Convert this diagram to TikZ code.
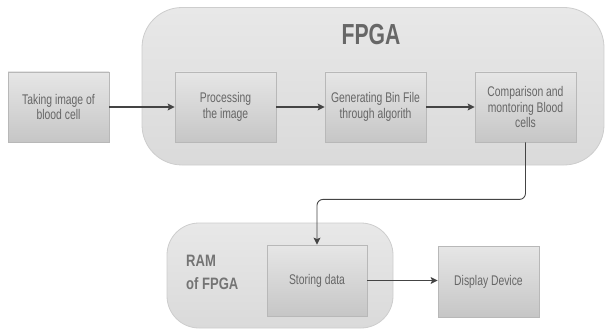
\documentclass[tikz,border=0pt]{standalone}
\usepackage{fontspec}
\setmainfont{Liberation Sans}
\newfontfamily\boxfont[FakeStretch=0.74]{Liberation Sans}
\newfontfamily\titlefont[FakeStretch=0.73]{Liberation Sans}
\newfontfamily\ramfont[FakeStretch=0.79]{Liberation Sans}
\usetikzlibrary{arrows.meta}
\definecolor{txt}{HTML}{666666}
\definecolor{titletxt}{HTML}{676767}
\definecolor{ramtxt}{HTML}{747474}
\definecolor{boxline}{HTML}{B8B8B8}
\definecolor{boxtop}{HTML}{E6E6E6}
\definecolor{boxbot}{HTML}{C6C6C6}
\definecolor{contline}{HTML}{CDCDCD}
\definecolor{conttop}{HTML}{E8E8E8}
\definecolor{contbot}{HTML}{DADADA}
\definecolor{arrcol}{HTML}{444444}
\begin{document}
\begin{tikzpicture}[x=1pt,y=-1pt,
  stepbox/.style={draw=boxline, line width=0.8pt, top color=boxtop, bottom color=boxbot,
    minimum width=101pt, minimum height=70pt, inner sep=0pt, align=center, text=txt,
    font=\boxfont\fontsize{14}{15.5}\selectfont},
  cont/.style={draw=contline, line width=0.8pt, top color=conttop, bottom color=contbot, inner sep=0pt},
  arr/.style={-{Stealth[length=7pt,width=7pt,inset=1.5pt]}, draw=arrcol, line width=1.1pt},
  conn/.style={-{Stealth[length=7pt,width=7pt,inset=1.5pt]}, draw=arrcol, line width=0.9pt, rounded corners=6pt}]
\useasboundingbox (0,0) rectangle (605,329);
% containers
\node[cont, rounded corners=40pt, minimum width=462pt, minimum height=157.5pt] (fpga) at (373,86.25) {};
\node[cont, rounded corners=32pt, minimum width=226pt, minimum height=105pt] (ram) at (280,275.5) {};
% titles
\node[text=titletxt, font=\titlefont\bfseries\fontsize{29}{32}\selectfont, inner sep=0pt] (fpgatitle) at (371,34.5) {FPGA};
\node[text=ramtxt, font=\ramfont\bfseries\fontsize{16.5}{23}\selectfont, align=left, inner sep=0pt, anchor=west] (ramtitle) at (186,272.5) {RAM\\of FPGA};
% boxes
\node[stepbox] (take) at (58.5,107) {Taking image of\\blood cell};
\node[stepbox] (proc) at (225.5,107) {Processing\\the image};
\node[stepbox] (gen) at (375.5,107) {Generating Bin File\\through algorith};
\node[stepbox] (comp) at (525.5,107) {Comparison and\\montoring Blood\\cells};
\node[stepbox, minimum width=100pt, minimum height=71pt] (store) at (317,280.5) {Storing data};
\node[stepbox, minimum height=71pt] (disp) at (488.5,281.5) {Display Device};
% connectors
\draw[arr] (take) -- (proc);
\draw[arr] (proc) -- (gen);
\draw[arr] (gen) -- (comp);
\draw[conn] (comp.south) -- ++(0,57) -| (store.north);
\draw[arr] (store.east) -- (store.east -| disp.west);
\end{tikzpicture}
\end{document}
